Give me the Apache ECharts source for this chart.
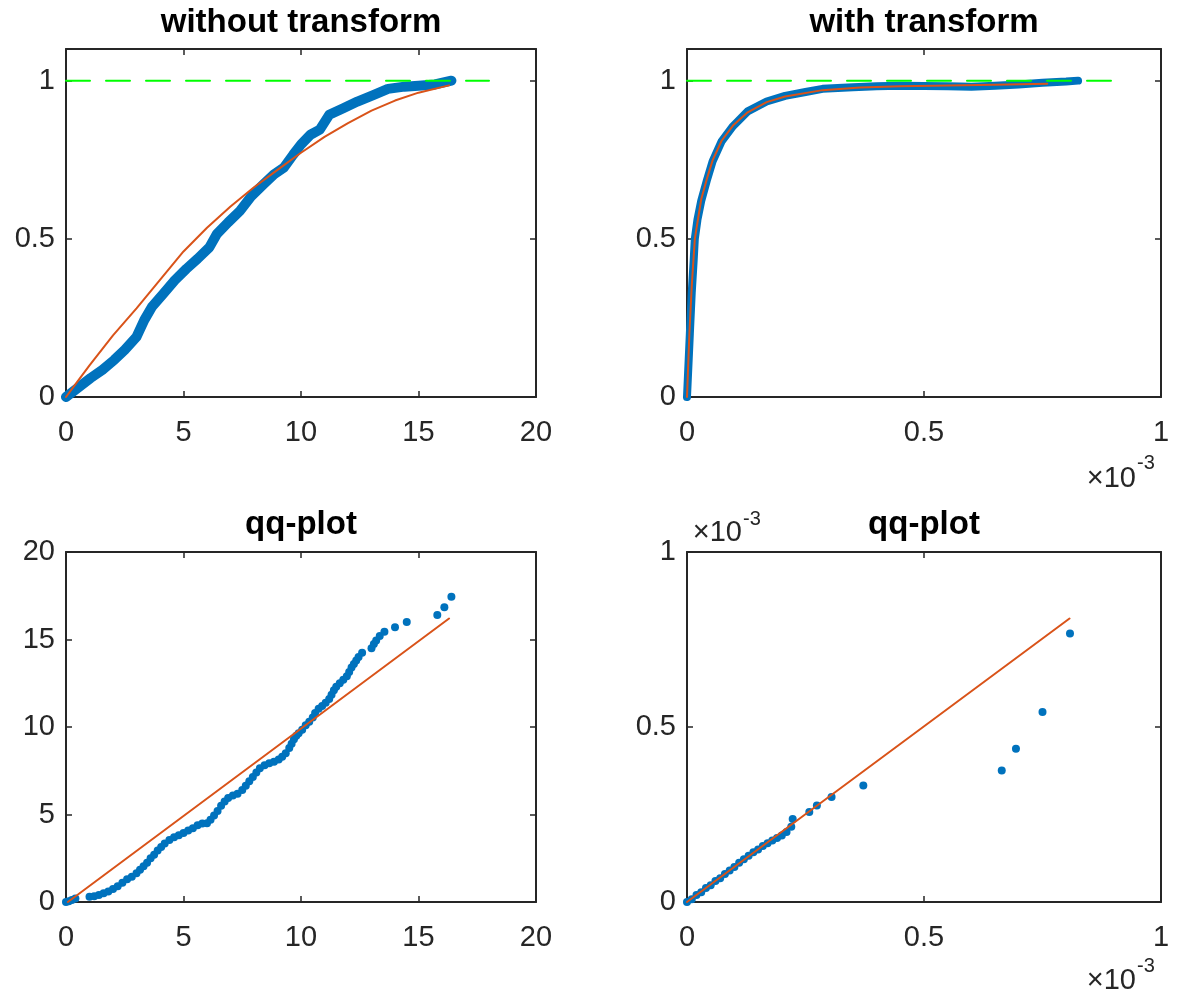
<!DOCTYPE html>
<html>
<head>
<meta charset="utf-8">
<script src="https://cdn.jsdelivr.net/npm/echarts@6/dist/echarts.min.js"></script>
<style>
html, body { margin: 0; background: #fff; }
#main { width: 1184px; height: 1000px; }
</style>
</head>
<body>
<div id="main"></div>
<script>
// without transform: empirical cdf (blue), fitted cdf (orange), level 1 (green)
var rawCdf = [[0,0],[0.4,0.023],[1.05,0.06],[1.55,0.086],[2.05,0.117],[2.5,0.149],[3.0,0.19],[3.33,0.243],[3.66,0.285],[4.15,0.327],[4.63,0.369],[5.12,0.405],[5.6,0.437],[6.1,0.473],[6.42,0.515],[6.9,0.552],[7.4,0.588],[7.9,0.636],[8.4,0.672],[8.85,0.704],[9.27,0.725],[9.67,0.766],[10.0,0.798],[10.4,0.829],[10.8,0.845],[11.2,0.892],[11.8,0.913],[12.4,0.934],[13.1,0.955],[13.7,0.974],[14.4,0.981],[15.0,0.984],[15.7,0.988],[16.4,1.0]];
var rawFit = [[0,0],[0.5,0.05],[1,0.1],[2,0.195],[3,0.28],[4,0.37],[5,0.46],[6,0.535],[7,0.602],[8,0.663],[9,0.718],[10,0.772],[11,0.822],[12,0.866],[13,0.905],[14,0.937],[15,0.962],[16.3,0.985]];
var rawTop = [[0,1],[18,1]];

// with transform
var trCdf = [[0,0],[0.003e-3,0.1],[0.006e-3,0.2],[0.01e-3,0.33],[0.014e-3,0.43],[0.0165e-3,0.5],[0.022e-3,0.56],[0.03e-3,0.62],[0.042e-3,0.685],[0.054e-3,0.745],[0.073e-3,0.808],[0.097e-3,0.856],[0.128e-3,0.903],[0.168e-3,0.934],[0.207e-3,0.952],[0.25e-3,0.964],[0.286e-3,0.974],[0.35e-3,0.979],[0.4e-3,0.982],[0.45e-3,0.984],[0.5e-3,0.983],[0.55e-3,0.982],[0.6e-3,0.981],[0.65e-3,0.984],[0.7e-3,0.988],[0.75e-3,0.993],[0.8e-3,0.997],[0.825e-3,1.0]];
var trFit = [[0,0],[0.005e-3,0.2],[0.01e-3,0.35],[0.0165e-3,0.5],[0.03e-3,0.625],[0.042e-3,0.69],[0.054e-3,0.748],[0.073e-3,0.81],[0.097e-3,0.858],[0.128e-3,0.9],[0.168e-3,0.932],[0.207e-3,0.95],[0.286e-3,0.97],[0.365e-3,0.978],[0.45e-3,0.982],[0.55e-3,0.985],[0.65e-3,0.987],[0.76e-3,0.99]];
var trTop = [[0,1],[0.9e-3,1]];

// qq-plots
var qqRaw = [[0,0],[0.12,0.05],[0.25,0.12],[0.4,0.2],
  [1.0,0.3],[1.2,0.33],[1.4,0.4],[1.6,0.5],[1.8,0.6],[2.0,0.75],[2.2,0.9],[2.4,1.1],[2.6,1.3],[2.8,1.45],[3.0,1.65],[3.15,1.85],[3.3,2.05],[3.45,2.25],[3.6,2.5],[3.75,2.7],[3.9,2.95],[4.05,3.15],[4.2,3.35],[4.4,3.55],[4.6,3.7],[4.8,3.82],[5.0,3.95],[5.2,4.08],[5.4,4.22],[5.6,4.38],[5.8,4.48],[6.0,4.5],[6.15,4.7],[6.3,4.95],[6.45,5.2],[6.6,5.5],[6.75,5.75],[6.9,5.95],[7.1,6.08],[7.3,6.18],[7.5,6.4],[7.65,6.65],[7.8,6.9],[7.95,7.15],[8.1,7.4],[8.25,7.65],[8.45,7.82],[8.65,7.93],[8.85,8.02],[9.05,8.15],[9.2,8.3],[9.35,8.5],[9.5,8.8],[9.6,9.05],[9.7,9.3],[9.8,9.5],[9.9,9.65],[10.05,9.85],[10.2,10.1],[10.35,10.3],[10.5,10.55],[10.6,10.8],[10.75,11.05],[10.9,11.2],[11.05,11.38],[11.2,11.6],[11.3,11.85],[11.4,12.1],[11.5,12.3],[11.65,12.5],[11.8,12.7],[11.95,12.9],[12.05,13.15],[12.15,13.4],[12.25,13.6],[12.35,13.8],[12.45,14.0],[12.6,14.25],
  [13.0,14.5],[13.1,14.75],[13.2,14.95],[13.35,15.2],[13.55,15.45],[14.0,15.7],[14.5,16.0],[15.8,16.4],[16.1,16.85],[16.4,17.45]];
var qqRawRef = [[0.08,0],[16.3,16.2]];
var qqTr = [[0,0],[0.01e-3,0.008e-3],[0.02e-3,0.02e-3],[0.03e-3,0.028e-3],[0.04e-3,0.04e-3],[0.05e-3,0.048e-3],[0.06e-3,0.06e-3],[0.07e-3,0.068e-3],[0.08e-3,0.08e-3],[0.09e-3,0.09e-3],[0.1e-3,0.1e-3],[0.11e-3,0.112e-3],[0.12e-3,0.122e-3],[0.13e-3,0.132e-3],[0.14e-3,0.142e-3],[0.15e-3,0.15e-3],[0.16e-3,0.16e-3],[0.17e-3,0.168e-3],[0.18e-3,0.176e-3],[0.19e-3,0.183e-3],[0.2e-3,0.19e-3],[0.21e-3,0.2e-3],[0.22e-3,0.215e-3],[0.223e-3,0.237e-3],[0.258e-3,0.257e-3],[0.274e-3,0.276e-3],[0.305e-3,0.3e-3],[0.372e-3,0.333e-3],[0.664e-3,0.376e-3],[0.694e-3,0.438e-3],[0.75e-3,0.543e-3],[0.808e-3,0.767e-3]];
var qqTrRef = [[0,0],[0.807e-3,0.81e-3]];

var blue = '#0072BD', orange = '#D95319', green = '#00FF00';
var ink = '#262626';
var font = 'Liberation Sans';

function plain(v) { return String(Math.round(v * 100) / 100); }
function milli(v) { return String(Math.round(v * 1e4) / 10); }

// bottom/left axis carries labels, top/right one only closes the box with ticks
function axisPair(dim, g, max, step, fmt) {
  var list = [];
  var sides = dim === 'x' ? ['bottom', 'top'] : ['left', 'right'];
  for (var i = 0; i < 2; i++) {
    list.push({
      gridIndex: g,
      type: 'value',
      position: sides[i],
      min: 0,
      max: max,
      interval: step,
      axisLine: { show: true, onZero: false, lineStyle: { color: ink, width: 2 } },
      axisTick: { show: true, inside: true, length: 6, lineStyle: { color: ink, width: 1.5 } },
      splitLine: { show: false },
      axisLabel: i ? { show: false } : {
        color: ink, fontSize: 29, fontFamily: font,
        margin: dim === 'x' ? 21 : 11,
        formatter: function (v) {
          var k = v / step;
          return Math.abs(k - Math.round(k)) > 1e-6 ? '' : fmt(v);
        }
      }
    });
  }
  return list;
}

function curve(g, data, color, width, dash) {
  return {
    type: 'line', xAxisIndex: 2 * g, yAxisIndex: 2 * g, data: data,
    symbol: 'none',
    lineStyle: { color: color, width: width, type: dash || 'solid', cap: 'round', join: 'round' }
  };
}
function dots(g, data) {
  return {
    type: 'scatter', xAxisIndex: 2 * g, yAxisIndex: 2 * g, data: data,
    symbolSize: 8, itemStyle: { color: blue, opacity: 1 }
  };
}
function txt(x, y, s, size, align, bold) {
  return {
    type: 'text', x: x, y: y,
    style: {
      text: s, fill: bold ? '#000' : ink, align: align, verticalAlign: 'middle',
      font: (bold ? 'bold ' : '') + size + 'px "' + font + '"'
    }
  };
}

var chart = echarts.init(document.getElementById('main'));
chart.setOption({
  animation: false,
  backgroundColor: '#fff',
  grid: [
    { left: 66, top: 49, width: 470, height: 348, outerBoundsMode: 'none' },
    { left: 687, top: 49, width: 474, height: 348, outerBoundsMode: 'none' },
    { left: 66, top: 552, width: 470, height: 350, outerBoundsMode: 'none' },
    { left: 687, top: 552, width: 474, height: 350, outerBoundsMode: 'none' }
  ],
  xAxis: [].concat(
    axisPair('x', 0, 20, 5, plain),
    axisPair('x', 1, 1e-3, 0.5e-3, milli),
    axisPair('x', 2, 20, 5, plain),
    axisPair('x', 3, 1e-3, 0.5e-3, milli)
  ),
  yAxis: [].concat(
    axisPair('y', 0, 1.1, 0.5, plain),
    axisPair('y', 1, 1.1, 0.5, plain),
    axisPair('y', 2, 20, 5, plain),
    axisPair('y', 3, 1e-3, 0.5e-3, milli)
  ),
  graphic: [
    txt(301, 23, 'without transform', 33, 'center', true),
    txt(924, 23, 'with transform', 33, 'center', true),
    txt(301, 525, 'qq-plot', 33, 'center', true),
    txt(924, 525, 'qq-plot', 33, 'center', true),
    txt(1136, 479, '\u00d710', 29, 'right'),
    txt(1137, 463, '-3', 20, 'left'),
    txt(1136, 981, '\u00d710', 29, 'right'),
    txt(1137, 966, '-3', 20, 'left'),
    txt(742, 533, '\u00d710', 29, 'right'),
    txt(743, 519, '-3', 20, 'left')
  ],
  series: [
    curve(0, rawCdf, blue, 10),
    curve(0, rawFit, orange, 2),
    curve(0, rawTop, green, 2, [24, 16]),
    curve(1, trCdf, blue, 8),
    curve(1, trFit, orange, 2),
    curve(1, trTop, green, 2, [24, 16]),
    dots(2, qqRaw),
    curve(2, qqRawRef, orange, 2),
    dots(3, qqTr),
    curve(3, qqTrRef, orange, 2)
  ]
});
</script>
</body>
</html>
